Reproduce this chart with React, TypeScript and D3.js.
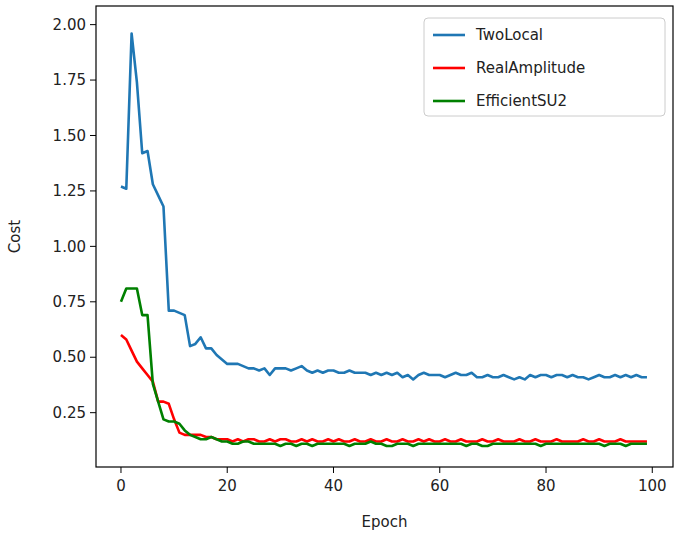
import React from 'react';
import * as d3 from 'd3';

const twoLocal = [
  1.27, 1.26, 1.96, 1.74, 1.42, 1.43, 1.28, 1.23, 1.18, 0.71,
  0.71, 0.70, 0.69, 0.55, 0.56, 0.59, 0.54, 0.54, 0.51, 0.49,
  0.47, 0.47, 0.47, 0.46, 0.45, 0.45, 0.44, 0.45, 0.42, 0.45,
  0.45, 0.45, 0.44, 0.45, 0.46, 0.44, 0.43, 0.44, 0.43, 0.44,
  0.44, 0.43, 0.43, 0.44, 0.43, 0.43, 0.43, 0.42, 0.43, 0.42,
  0.43, 0.42, 0.43, 0.41, 0.42, 0.40, 0.42, 0.43, 0.42, 0.42,
  0.42, 0.41, 0.42, 0.43, 0.42, 0.42, 0.43, 0.41, 0.41, 0.42,
  0.41, 0.41, 0.42, 0.41, 0.40, 0.41, 0.40, 0.42, 0.41, 0.42,
  0.42, 0.41, 0.42, 0.42, 0.41, 0.42, 0.41, 0.41, 0.40, 0.41,
  0.42, 0.41, 0.41, 0.42, 0.41, 0.42, 0.41, 0.42, 0.41, 0.41,
];
const realAmplitude = [
  0.60, 0.58, 0.53, 0.48, 0.45, 0.42, 0.39, 0.30, 0.30, 0.29,
  0.22, 0.16, 0.15, 0.15, 0.15, 0.15, 0.14, 0.14, 0.13, 0.13,
  0.13, 0.12, 0.13, 0.12, 0.13, 0.13, 0.12, 0.12, 0.13, 0.12,
  0.13, 0.13, 0.12, 0.12, 0.13, 0.12, 0.13, 0.12, 0.12, 0.13,
  0.12, 0.13, 0.12, 0.12, 0.13, 0.12, 0.12, 0.13, 0.12, 0.12,
  0.13, 0.12, 0.12, 0.13, 0.12, 0.12, 0.13, 0.12, 0.13, 0.12,
  0.12, 0.13, 0.12, 0.12, 0.13, 0.12, 0.12, 0.12, 0.13, 0.12,
  0.12, 0.13, 0.12, 0.12, 0.12, 0.13, 0.12, 0.12, 0.13, 0.12,
  0.12, 0.12, 0.13, 0.12, 0.12, 0.12, 0.12, 0.13, 0.12, 0.12,
  0.13, 0.12, 0.12, 0.12, 0.13, 0.12, 0.12, 0.12, 0.12, 0.12,
];
const efficientSU2 = [
  0.75, 0.81, 0.81, 0.81, 0.69, 0.69, 0.38, 0.30, 0.22, 0.21,
  0.21, 0.20, 0.17, 0.15, 0.14, 0.13, 0.13, 0.14, 0.13, 0.12,
  0.12, 0.11, 0.11, 0.12, 0.12, 0.11, 0.11, 0.11, 0.11, 0.11,
  0.10, 0.11, 0.11, 0.10, 0.11, 0.11, 0.10, 0.11, 0.11, 0.11,
  0.11, 0.11, 0.11, 0.10, 0.11, 0.11, 0.11, 0.12, 0.11, 0.11,
  0.10, 0.10, 0.11, 0.11, 0.11, 0.10, 0.11, 0.11, 0.11, 0.11,
  0.11, 0.11, 0.11, 0.11, 0.11, 0.10, 0.11, 0.11, 0.10, 0.10,
  0.11, 0.11, 0.11, 0.11, 0.11, 0.11, 0.11, 0.11, 0.11, 0.10,
  0.11, 0.11, 0.11, 0.11, 0.11, 0.11, 0.11, 0.11, 0.11, 0.11,
  0.11, 0.10, 0.11, 0.11, 0.11, 0.10, 0.11, 0.11, 0.11, 0.11,
];
const seriesNames = ['TwoLocal', 'RealAmplitude', 'EfficientSU2'];
const seriesColors = ['#1f77b4', '#ff0000', '#008000'];
const xTicks = [0, 20, 40, 60, 80, 100];
const yTicks = [0.25, 0.5, 0.75, 1.0, 1.25, 1.5, 1.75, 2.0];

const W = 688;
const H = 536;
const plot = { left: 96, right: 673, top: 6, bottom: 467 };
const font = 'DejaVu Sans, sans-serif';

export default function App() {
  const x = d3.scaleLinear().domain([-4.7, 103.9]).range([plot.left, plot.right]);
  const y = d3.scaleLinear().domain([0.005, 2.084]).range([plot.bottom, plot.top]);
  const line = d3.line<number>().x((_, i) => x(i)).y((d) => y(d));
  const all = [twoLocal, realAmplitude, efficientSU2];

  return (
    <svg width={W} height={H} style={{ position: 'absolute', left: 0, top: 0 }} fontFamily={font}>
      <rect width={W} height={H} fill="#fff" />
      {all.map((s, i) => (
        <path key={i} d={line(s) || ''} fill="none" stroke={seriesColors[i]} strokeWidth={2.6} strokeLinejoin="round" />
      ))}
      <rect x={plot.left} y={plot.top} width={plot.right - plot.left} height={plot.bottom - plot.top} fill="none" stroke="#000" strokeWidth={1.2} />
      {xTicks.map((t) => (
        <g key={t} transform={`translate(${x(t)},${plot.bottom})`}>
          <line y2={6} stroke="#000" />
          <text y={24} textAnchor="middle" fontSize={15} fill="#222">{t}</text>
        </g>
      ))}
      {yTicks.map((t) => (
        <g key={t} transform={`translate(${plot.left},${y(t)})`}>
          <line x2={-6} stroke="#000" />
          <text x={-10} dy="0.35em" textAnchor="end" fontSize={15} fill="#222">{t.toFixed(2)}</text>
        </g>
      ))}
      <text x={(plot.left + plot.right) / 2} y={527} textAnchor="middle" fontSize={15} fill="#222">Epoch</text>
      <text transform={`translate(20,${(plot.top + plot.bottom) / 2}) rotate(-90)`} textAnchor="middle" fontSize={15} fill="#222">Cost</text>
      <g transform="translate(424,18)">
        <rect width={241} height={98} rx={4} fill="#fff" fillOpacity={0.8} stroke="#ccc" />
        {seriesNames.map((n, i) => (
          <g key={n} transform={`translate(0,${17 + i * 33})`}>
            <line x1={9} x2={41} stroke={seriesColors[i]} strokeWidth={2.6} />
            <text x={52} dy="0.35em" fontSize={15} fill="#222">{n}</text>
          </g>
        ))}
      </g>
    </svg>
  );
}
